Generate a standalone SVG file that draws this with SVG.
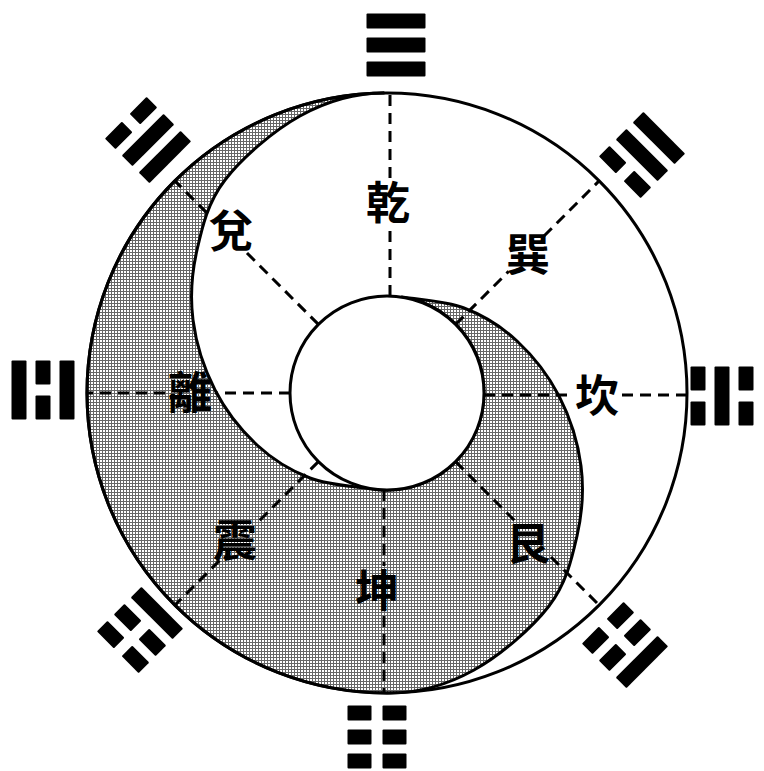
<svg xmlns="http://www.w3.org/2000/svg" xmlns:xlink="http://www.w3.org/1999/xlink" width="764" height="771" viewBox="0 0 764 771">
<style>
.line{stroke:#000;stroke-width:3;fill:none}
.dash{stroke:#000;stroke-width:3;stroke-dasharray:11 7;fill:none}
.lbl{font-family:"Noto Sans CJK TC","Noto Sans CJK SC",sans-serif;font-size:44px;font-weight:700;fill:#000;text-anchor:middle}
.bar{fill:#000}
</style>
<defs>
<pattern id="screen" width="3" height="3" patternUnits="userSpaceOnUse">
<rect width="3" height="3" fill="#fff"/>
<rect width="3" height="1" fill="#666"/>
<rect width="1" height="3" fill="#666"/>
</pattern>
<g id="solid"><rect class="bar" x="-29.5" y="-7.5" width="59" height="15" rx="1"/></g>
<g id="broken"><rect class="bar" x="-29.5" y="-7.5" width="24" height="15" rx="1"/><rect class="bar" x="5.5" y="-7.5" width="24" height="15" rx="1"/></g>
</defs>
<rect width="764" height="771" fill="#fff"/>
<g id="taiji">
<circle cx="387" cy="393" r="300" fill="#fff"/>
<path id="yin" fill="url(#screen)" stroke="#000" stroke-width="3" stroke-linejoin="round" d="M384,93 A300,300 0 0 0 87,393 A300,300 0 0 0 390,693 C420,693 447.5,684.7 474,670 C500.5,655.3 531.8,628.3 549,606 C566.2,583.7 571.7,559.3 577,536 C582.3,512.7 584,489.3 581,466 C578,442.7 569.7,416.8 559,396 C548.3,375.2 532.8,355.7 517,341 C501.2,326.3 483.2,315.3 464,308 C444.8,300.7 421.8,300.1 402,297 A97,97 0 0 1 484,393 A97,97 0 0 1 372,489 C352.2,485.9 329.2,485.3 310,478 C290.8,470.7 272.8,459.7 257,445 C241.2,430.3 225.7,410.8 215,390 C204.3,369.2 196,343.3 193,320 C190,296.7 191.7,273.3 197,250 C202.3,226.7 207.8,202.3 225,180 C242.2,157.7 273.5,130.7 300,116 C326.5,101.3 354,93 384,93 Z"/>
<circle class="line" cx="387" cy="393" r="300" stroke-width="3.5"/>
<circle cx="387" cy="393" r="97" fill="#fff" stroke="#000" stroke-width="3"/>
</g>
<g id="connectors">
<path class="dash" d="M390,296 V228 M390,178 V93"/>
<path class="dash" d="M455.6,324.4 L508.6,271.4 M544,236 L599.1,180.9"/>
<path class="dash" d="M484,395 H572 M622,395 H687"/>
<path class="dash" d="M455.6,461.6 L515.7,521.7 M551,557 L599.1,605.1"/>
<path class="dash" d="M384,490 V566 M384,616 V693"/>
<path class="dash" d="M318.4,461.6 L254.8,525.2 M219.4,560.6 L174.9,605.1"/>
<path class="dash" d="M290,393 H215 M165,393 H87"/>
<path class="dash" d="M318.4,324.4 L245.6,251.6 M206.6,212.6 L174.9,180.9"/>
</g>
<g id="labels">
<text id="lbl-qian" class="lbl" x="388" y="203" dy="0.36em">乾</text>
<text id="lbl-xun" class="lbl" x="528" y="255" dy="0.36em">巽</text>
<text id="lbl-kan" class="lbl" x="597" y="396" dy="0.36em">坎</text>
<text id="lbl-gen" class="lbl" x="528" y="544" dy="0.36em">艮</text>
<text id="lbl-kun" class="lbl" x="377" y="591" dy="0.36em">坤</text>
<text id="lbl-zhen" class="lbl" x="235" y="541" dy="0.36em">震</text>
<text id="lbl-li" class="lbl" x="190" y="393" dy="0.36em">離</text>
<text id="lbl-dui" class="lbl" x="231" y="231" dy="0.36em">兌</text>
</g>
<g id="trigram-qian" transform="translate(396,45) rotate(0)"><use xlink:href="#solid" y="24"/><use xlink:href="#solid" y="0"/><use xlink:href="#solid" y="-24"/></g>
<g id="trigram-xun" transform="translate(642,155) rotate(45)"><use xlink:href="#broken" y="24"/><use xlink:href="#solid" y="0"/><use xlink:href="#solid" y="-24"/></g>
<g id="trigram-kan" transform="translate(722,396) rotate(90)"><use xlink:href="#broken" y="24"/><use xlink:href="#solid" y="0"/><use xlink:href="#broken" y="-24"/></g>
<g id="trigram-gen" transform="translate(625,645) rotate(135)"><use xlink:href="#broken" y="24"/><use xlink:href="#broken" y="0"/><use xlink:href="#solid" y="-24"/></g>
<g id="trigram-kun" transform="translate(377,737) rotate(180)"><use xlink:href="#broken" y="24"/><use xlink:href="#broken" y="0"/><use xlink:href="#broken" y="-24"/></g>
<g id="trigram-zhen" transform="translate(140,630) rotate(225)"><use xlink:href="#solid" y="24"/><use xlink:href="#broken" y="0"/><use xlink:href="#broken" y="-24"/></g>
<g id="trigram-li" transform="translate(43,390) rotate(270)"><use xlink:href="#solid" y="24"/><use xlink:href="#broken" y="0"/><use xlink:href="#solid" y="-24"/></g>
<g id="trigram-dui" transform="translate(148,140) rotate(315)"><use xlink:href="#solid" y="24"/><use xlink:href="#solid" y="0"/><use xlink:href="#broken" y="-24"/></g>
</svg>
